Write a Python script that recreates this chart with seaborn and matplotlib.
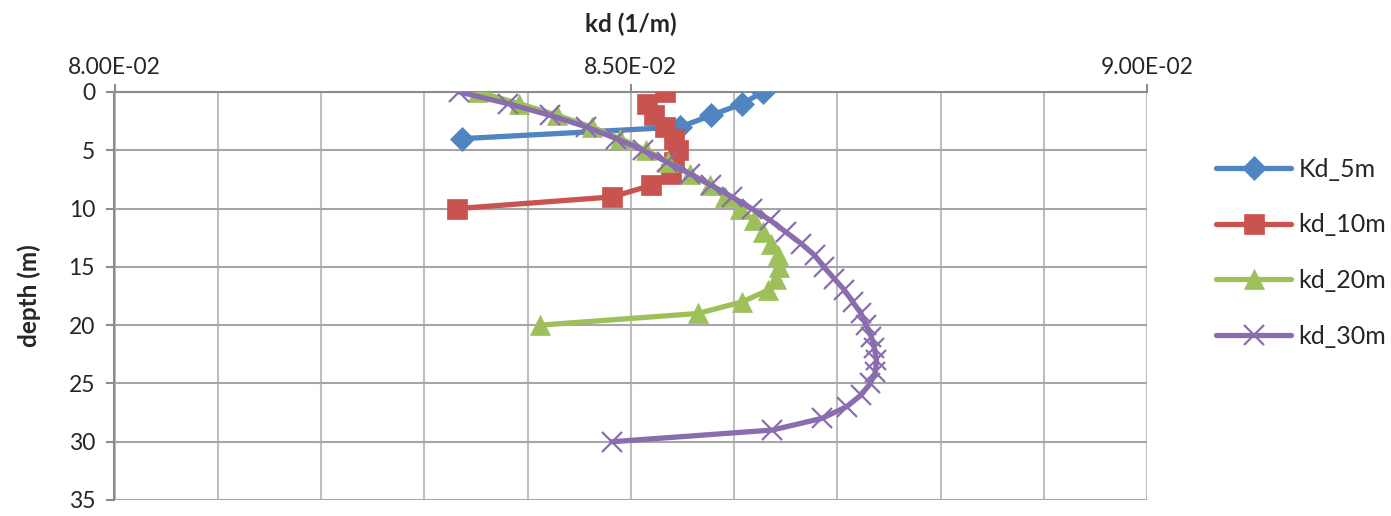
import matplotlib
matplotlib.use("Agg")
import matplotlib.pyplot as plt
import matplotlib.ticker as mticker
from matplotlib.lines import Line2D
import seaborn as sns
import pandas as pd

# ---- data ----
depth_5m = [0, 1, 2, 3, 4]
kd_5m = [0.08628, 0.08608, 0.08578, 0.08548, 0.08337]

depth_10m = list(range(0, 11))
kd_10m = [0.08533, 0.08516, 0.08523, 0.08533, 0.08542, 0.08546,
          0.08542, 0.08539, 0.08520, 0.08482, 0.08332]

depth_20m = list(range(0, 21))
kd_20m = [0.08352, 0.08392, 0.08429, 0.08462, 0.08490, 0.08515, 0.08536,
          0.08557, 0.08577, 0.08591, 0.08606, 0.08619, 0.08628, 0.08636,
          0.08643, 0.08644, 0.08641, 0.08633, 0.08608, 0.08565, 0.08412]

depth_30m = list(range(0, 31))
kd_30m = [0.08334, 0.08381, 0.08422, 0.08457, 0.08486, 0.08512, 0.08535,
          0.08557, 0.08578, 0.08598, 0.08617, 0.08635, 0.08650, 0.08665,
          0.08678, 0.08687, 0.08697, 0.08707, 0.08715, 0.08723, 0.08728,
          0.08733, 0.08736, 0.08738, 0.08737, 0.08732, 0.08723, 0.08709,
          0.08685, 0.08637, 0.08482]

series_names = ["Kd_5m", "kd_10m", "kd_20m", "kd_30m"]
x_ticks = [0.080, 0.085, 0.090]
y_ticks = [0, 5, 10, 15, 20, 25, 30, 35]
x_title = "kd (1/m)"
y_title = "depth (m)"

# ---- style ----
sns.set_style("white")
plt.rcParams["font.family"] = ["Lato", "DejaVu Sans"]

colors = ["#5085C2", "#C9544F", "#9DC05B", "#8A6DAF"]
markers = ["D", "s", "^", "x"]
msizes = [12, 14.5, 14, 14]

fig = plt.figure(figsize=(13.91, 5.16), dpi=100)
ax = fig.add_axes([114.5 / 1391, 1 - 500 / 516, (1147 - 114.5) / 1391, (500 - 92) / 516])

data = [(depth_5m, kd_5m), (depth_10m, kd_10m), (depth_20m, kd_20m), (depth_30m, kd_30m)]
for (d, k), name, c, m, ms in zip(data, series_names, colors, markers, msizes):
    df = pd.DataFrame({"kd": k, "depth": d})
    sns.lineplot(data=df, x="kd", y="depth", sort=False, estimator=None,
                 color=c, linewidth=3.8, marker=m, markersize=ms,
                 markeredgecolor=c, markerfacecolor=c,
                 markeredgewidth=1.6 if m == "x" else 0.5,
                 ax=ax, legend=False, zorder=3)

ax.set_xlim(0.08, 0.09)
ax.set_ylim(35, 0)
ax.set_xticks(x_ticks)
ax.xaxis.set_minor_locator(mticker.MultipleLocator(0.001))
ax.set_yticks(y_ticks)
ax.xaxis.set_major_formatter(mticker.FuncFormatter(lambda v, p: f"{v:.2E}"))
ax.xaxis.tick_top()
ax.xaxis.set_label_position("top")

ax.grid(True, which="major", axis="y", color="#A6A6A6", linewidth=1.5)
ax.grid(True, which="both", axis="x", color="#BFBFBF", linewidth=1.5)
ax.set_axisbelow(True)

for s in ["left", "top"]:
    ax.spines[s].set_visible(True)
    ax.spines[s].set_color("#8C8C8C")
    ax.spines[s].set_linewidth(1.5)
for s in ["right", "bottom"]:
    ax.spines[s].set_visible(False)

ax.tick_params(axis="x", which="major", direction="out", length=6, width=1.5,
               color="#8C8C8C", labelsize=16.5, pad=4, top=True, bottom=False)
ax.tick_params(axis="x", which="minor", length=0)
ax.tick_params(axis="y", which="major", direction="out", length=6, width=1.5,
               color="#8C8C8C", labelsize=16.5, pad=8, left=True)

ax.set_xlabel(x_title, fontsize=17.5, fontweight="bold", labelpad=18)
ax.set_ylabel(y_title, fontsize=17.5, fontweight="bold", labelpad=20)

handles = [Line2D([], [], color=c, linewidth=3.8, marker=m, markersize=ms,
                  markeredgecolor=c, markerfacecolor=c,
                  markeredgewidth=1.6 if m == "x" else 0.5)
           for c, m, ms in zip(colors, markers, msizes)]
fig.legend(handles, series_names, loc="upper left",
           bbox_to_anchor=(1216 / 1391, 1 - 158 / 516), frameon=False,
           fontsize=18, handlelength=3.0, handletextpad=0.3,
           labelspacing=1.3, borderpad=0, borderaxespad=0)

fig.savefig("out.png", dpi=100)
